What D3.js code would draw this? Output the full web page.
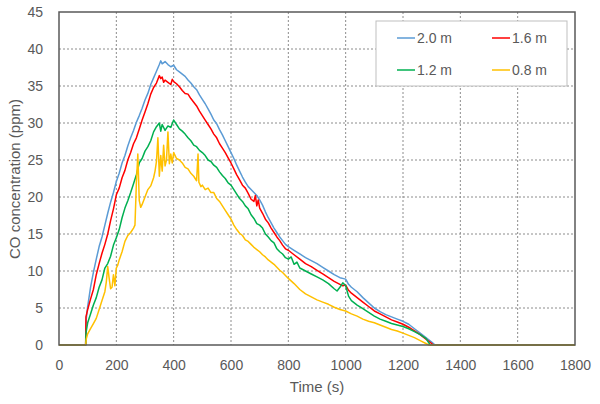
<!DOCTYPE html>
<html><head><meta charset="utf-8">
<script src="https://cdn.jsdelivr.net/npm/d3@7"></script>
<style>body{margin:0;background:#fff;} text{font-family:"Liberation Sans",Arial,sans-serif;}</style>
</head><body><svg id="c" width="600" height="404"></svg>
<script>
const xTicks = [0,200,400,600,800,1000,1200,1400,1600,1800];
const yTicks = [0,5,10,15,20,25,30,35,40,45];
const seriesNames = ["2.0 m","1.6 m","1.2 m","0.8 m"];
const seriesColors = ["#5B9BD5","#FF0000","#00B050","#FFC000"];

const s20 = [[0,0],[93,0],[95,3.5],[100,5.2],[110,7.8],[120,9.8],[130,11.6],[140,13.3],[150,14.6],[160,16.2],[170,17.8],[180,19.3],[190,20.6],[200,22.1],[210,23.2],[220,24.6],[230,25.6],[240,26.9],[250,28.0],[260,29.0],[270,30.1],[280,31.0],[290,32.0],[300,33.1],[310,34.0],[320,35.2],[330,36.1],[340,37.0],[350,37.9],[355,38.4],[360,38.0],[370,38.3],[380,37.9],[390,37.6],[400,37.8],[410,37.2],[420,36.9],[430,36.6],[440,36.3],[450,35.8],[460,35.4],[470,34.9],[480,34.5],[490,33.8],[500,33.2],[510,32.6],[520,31.9],[530,31.2],[540,30.4],[550,29.9],[560,29.1],[570,28.4],[580,27.6],[590,26.8],[600,26.0],[610,25.2],[620,24.3],[630,23.5],[640,22.7],[650,22.0],[660,21.4],[670,21.0],[680,20.6],[690,20.2],[700,19.6],[710,18.9],[720,18.0],[730,17.2],[740,16.5],[750,15.8],[760,15.2],[770,14.6],[780,14.1],[790,13.6],[800,13.3],[820,12.8],[840,12.3],[860,11.8],[880,11.4],[900,11.0],[920,10.5],[940,10.0],[960,9.5],[980,9.1],[1000,8.9],[1010,8.2],[1020,7.8],[1040,7.2],[1060,6.4],[1080,5.7],[1100,5.0],[1120,4.5],[1140,4.1],[1160,3.8],[1180,3.5],[1200,3.2],[1220,2.8],[1240,2.2],[1260,1.6],[1280,1.0],[1300,0.4],[1312,0],[1800,0]];

const s16 = [[0,0],[93,0],[94,3.8],[100,4.8],[110,6.2],[120,7.5],[130,9.5],[140,11.0],[150,12.4],[160,13.6],[170,15.0],[180,16.8],[190,18.4],[200,20.3],[210,21.2],[220,22.6],[230,23.6],[240,25.0],[250,26.0],[260,27.2],[270,28.0],[280,29.2],[290,30.4],[300,31.5],[310,32.6],[320,33.9],[330,34.8],[340,35.4],[350,36.4],[355,36.0],[360,36.2],[365,35.5],[370,35.8],[380,35.5],[390,35.2],[395,35.9],[400,35.6],[410,35.3],[420,34.9],[430,34.4],[440,34.0],[450,33.9],[460,33.3],[470,32.8],[480,32.3],[490,31.6],[500,31.0],[510,30.4],[520,29.8],[530,29.2],[540,28.5],[550,28.0],[560,27.2],[570,26.6],[580,26.0],[590,25.3],[600,24.6],[610,23.8],[620,23.0],[630,22.3],[640,21.6],[650,21.2],[660,20.5],[670,19.7],[680,19.4],[685,20.2],[690,18.8],[695,19.6],[700,18.5],[710,17.8],[720,17.0],[730,16.5],[740,15.8],[750,15.2],[760,14.6],[770,14.1],[780,13.5],[790,13.0],[800,12.8],[820,12.2],[840,11.6],[860,11.0],[880,10.6],[900,10.1],[920,9.6],[940,9.1],[960,8.6],[980,8.2],[990,8.0],[1000,8.1],[1010,7.4],[1020,7.0],[1040,6.4],[1060,5.8],[1080,5.2],[1100,4.6],[1120,4.2],[1140,3.8],[1160,3.4],[1180,3.1],[1200,2.8],[1220,2.4],[1240,1.9],[1260,1.4],[1280,0.8],[1300,0.2],[1306,0],[1800,0]];

const s12 = [[0,0],[93,0],[94,1.6],[100,3.0],[110,4.2],[120,5.4],[130,6.4],[140,7.8],[150,8.8],[160,10.4],[170,11.0],[180,12.0],[190,13.5],[200,14.5],[210,15.6],[220,17.2],[230,18.5],[240,19.5],[250,20.6],[260,21.8],[270,23.0],[280,24.6],[290,25.2],[300,26.2],[310,26.8],[320,27.6],[330,28.8],[340,29.5],[350,30.0],[355,28.9],[360,29.8],[370,29.0],[380,29.6],[390,29.4],[400,30.4],[410,29.8],[420,29.2],[430,28.9],[440,28.5],[450,28.0],[460,27.6],[470,27.0],[480,26.8],[490,26.3],[500,26.0],[510,25.6],[520,25.0],[530,24.8],[540,24.3],[550,24.0],[560,23.4],[570,22.9],[580,22.5],[590,21.9],[600,21.6],[610,21.0],[620,20.4],[630,19.8],[640,19.4],[650,18.8],[660,18.4],[670,17.6],[680,17.1],[690,16.4],[700,16.2],[710,15.8],[720,15.0],[730,14.6],[740,14.1],[750,13.8],[760,13.0],[770,12.6],[780,12.3],[790,11.8],[800,11.6],[810,11.9],[820,10.9],[830,11.2],[840,10.4],[860,10.0],[880,9.6],[900,9.2],[920,8.8],[940,8.3],[960,7.6],[970,7.3],[980,7.8],[990,8.4],[1000,8.0],[1010,6.6],[1020,6.0],[1040,5.4],[1060,4.9],[1080,4.4],[1100,3.9],[1120,3.5],[1140,3.2],[1160,2.9],[1180,2.7],[1200,2.5],[1220,2.2],[1240,1.8],[1260,1.4],[1280,0.9],[1295,0],[1800,0]];

const s08 = [[0,0],[93,0],[95,0.8],[100,1.5],[110,2.2],[120,2.9],[130,3.6],[140,4.8],[150,6.0],[160,7.2],[165,8.5],[170,10.6],[175,9.0],[180,7.6],[185,7.8],[190,9.5],[195,8.0],[200,10.4],[205,10.8],[210,11.5],[220,12.6],[230,14.0],[240,14.8],[250,15.2],[260,15.8],[265,16.2],[270,22.0],[275,25.8],[280,19.5],[285,18.6],[290,19.0],[300,20.0],[310,21.0],[320,21.5],[330,22.6],[335,23.5],[340,24.8],[345,28.0],[350,22.8],[355,25.6],[360,23.5],[365,27.0],[370,24.2],[375,25.0],[380,28.8],[385,24.5],[390,25.8],[395,24.6],[400,26.0],[410,25.2],[420,25.0],[430,24.6],[440,24.0],[450,23.8],[460,23.2],[470,22.8],[480,22.2],[485,25.8],[488,22.0],[495,21.4],[500,21.6],[510,21.0],[520,21.2],[530,20.6],[540,20.6],[550,19.8],[560,19.4],[570,18.8],[580,18.2],[590,17.6],[600,17.0],[610,16.2],[620,15.6],[630,15.1],[640,14.8],[650,14.2],[660,14.0],[670,13.6],[680,13.2],[690,12.9],[700,12.6],[710,12.2],[720,11.9],[730,11.5],[740,11.2],[750,10.9],[760,10.5],[770,10.1],[780,9.8],[790,9.4],[800,9.0],[820,8.3],[840,7.5],[860,6.9],[880,6.5],[900,6.1],[920,5.8],[940,5.5],[960,5.1],[980,4.8],[1000,4.6],[1020,4.2],[1040,3.9],[1060,3.5],[1080,3.2],[1100,3.0],[1120,2.7],[1140,2.4],[1160,2.1],[1180,1.9],[1200,1.6],[1220,1.3],[1240,1.0],[1260,0.6],[1280,0.2],[1290,0],[1800,0]];

const seriesData = [s20, s16, s12, s08];

const svg = d3.select("#c");
const L = 59, R = 575, T = 12, B = 345;
const x = d3.scaleLinear().domain([0,1800]).range([L,R]);
const y = d3.scaleLinear().domain([0,45]).range([B,T]);
const txt = "#595959";

// grid
svg.append("g").selectAll("line").data(xTicks.slice(1,-1)).join("line")
  .attr("x1",d=>x(d)).attr("x2",d=>x(d)).attr("y1",T).attr("y2",B)
  .attr("stroke","#8c8c8c").attr("stroke-width",1).attr("stroke-dasharray","2,2");
svg.append("g").selectAll("line").data(yTicks.slice(1,-1)).join("line")
  .attr("x1",L).attr("x2",R).attr("y1",d=>y(d)).attr("y2",d=>y(d))
  .attr("stroke","#8c8c8c").attr("stroke-width",1).attr("stroke-dasharray","2,2");

// axes (labels)
const xa = svg.append("g").attr("transform",`translate(0,${B})`)
  .call(d3.axisBottom(x).tickValues(xTicks).tickFormat(d3.format("d")).tickSize(0).tickPadding(15));
const ya = svg.append("g").attr("transform",`translate(${L},0)`)
  .call(d3.axisLeft(y).tickValues(yTicks).tickFormat(d3.format("d")).tickSize(0).tickPadding(16));
[xa,ya].forEach(a=>{a.select(".domain").remove();
  a.selectAll("text").attr("fill",txt).style("font-size","14px").style("font-family","Liberation Sans, Arial, sans-serif");});

// lines
const line = d3.line().x(d=>x(d[0])).y(d=>y(d[1]));
seriesData.forEach((s,i)=>{
  svg.append("path").datum(s).attr("d",line).attr("fill","none")
    .attr("stroke",seriesColors[i]).attr("stroke-width",1.5).attr("stroke-linejoin","round");
});

// border
svg.append("rect").attr("x",L).attr("y",T).attr("width",R-L).attr("height",B-T)
  .attr("fill","none").attr("stroke","#595959").attr("stroke-width",1.5);

// legend
const lg = svg.append("g");
lg.append("rect").attr("x",376).attr("y",21).attr("width",191).attr("height",65)
  .attr("fill","#fff").attr("stroke","#bfbfbf").attr("stroke-width",1);
const pos = [[397,38],[492,38],[397,70],[492,70]];
seriesNames.forEach((n,i)=>{
  const [px,py] = pos[i];
  lg.append("line").attr("x1",px).attr("x2",px+18).attr("y1",py).attr("y2",py)
    .attr("stroke",seriesColors[i]).attr("stroke-width",1.5);
  lg.append("text").attr("x",px+20).attr("y",py+5).attr("fill",txt)
    .style("font-size","14px").text(n);
});

// titles
svg.append("text").attr("x",317).attr("y",392).attr("text-anchor","middle")
  .attr("fill",txt).style("font-size","15px").text("Time (s)");
svg.append("text").attr("transform","translate(20,179) rotate(-90)").attr("text-anchor","middle")
  .attr("fill",txt).style("font-size","15px").text("CO concentration (ppm)");
</script></body></html>
